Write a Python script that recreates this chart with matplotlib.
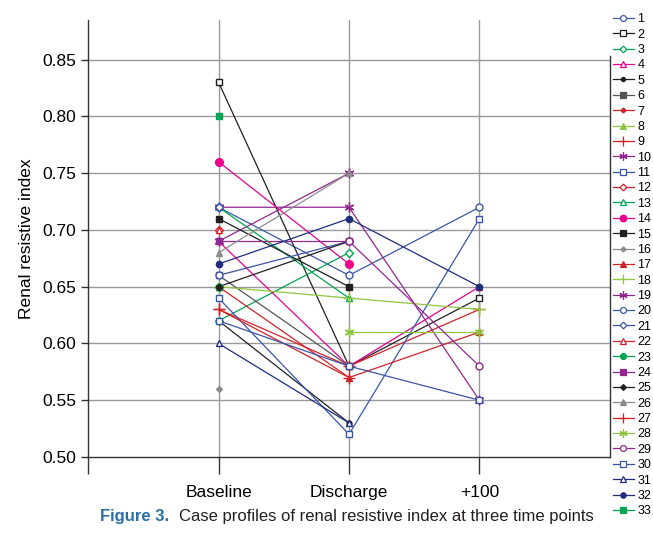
import numpy as np
import matplotlib
matplotlib.use("Agg")
import matplotlib.pyplot as plt

plt.rcParams['font.family'] = ['Liberation Sans', 'DejaVu Sans']

nan = np.nan
time_points = ["Baseline", "Discharge", "+100"]

# case values at Baseline / Discharge / +100
case_1 = [0.72, 0.66, 0.72]
case_2 = [0.83, 0.58, 0.64]
case_3 = [0.62, 0.68, nan]
case_4 = [0.69, 0.58, 0.65]
case_5 = [0.62, 0.53, nan]
case_6 = [0.66, 0.58, nan]
case_7 = [0.70, nan, nan]
case_8 = [0.65, nan, nan]
case_9 = [0.63, 0.58, 0.63]
case_10 = [0.69, 0.75, nan]
case_11 = [0.64, 0.52, 0.71]
case_12 = [0.70, nan, nan]
case_13 = [0.72, 0.64, nan]
case_14 = [0.76, 0.67, nan]
case_15 = [0.71, 0.65, nan]
case_16 = [0.56, nan, nan]
case_17 = [0.65, 0.57, 0.61]
case_18 = [0.65, 0.64, 0.63]
case_19 = [0.72, 0.72, 0.55]
case_20 = [0.66, 0.69, nan]
case_21 = [0.72, nan, nan]
case_22 = [0.70, nan, nan]
case_23 = [0.65, nan, nan]
case_24 = [0.69, 0.69, nan]
case_25 = [0.65, 0.69, nan]
case_26 = [0.68, 0.75, nan]
case_27 = [0.63, 0.57, nan]
case_28 = [nan, 0.61, 0.61]
case_29 = [nan, 0.69, 0.58]
case_30 = [0.62, 0.58, 0.55]
case_31 = [0.60, 0.53, nan]
case_32 = [0.67, 0.71, 0.65]
case_33 = [0.80, nan, nan]

cases = [case_1, case_2, case_3, case_4, case_5, case_6, case_7, case_8, case_9,
         case_10, case_11, case_12, case_13, case_14, case_15, case_16, case_17,
         case_18, case_19, case_20, case_21, case_22, case_23, case_24, case_25,
         case_26, case_27, case_28, case_29, case_30, case_31, case_32, case_33]

blue = '#3a56a8'
navy = '#1e2d7d'
green = '#00a651'
lgreen = '#8dc63f'
red = '#d2232a'
pink = '#ec008c'
purple = '#92278f'
gray = '#8c8c8c'
black = '#231f20'
ast = (6, 2, 0)   # asterisk marker

# (color, marker, filled, size)
styles = [
    (blue, 'o', False, 5), (black, 's', False, 5), (green, 'D', False, 4),
    (pink, '^', False, 5), (black, 'o', True, 3.5), ('#555555', 's', True, 4.5),
    (red, 'D', True, 3), (lgreen, '^', True, 5), (red, '+', True, 8),
    (purple, ast, True, 7), (blue, 's', False, 5), (red, 'D', False, 4),
    (green, '^', False, 5), (pink, 'o', True, 5.5), (black, 's', True, 5),
    (gray, 'D', True, 3), (red, '^', True, 5), (lgreen, '+', True, 8),
    (purple, ast, True, 7), (blue, 'o', False, 5), (blue, 'D', False, 4),
    (red, '^', False, 5), (green, 'o', True, 5), (purple, 's', True, 5),
    (black, 'D', True, 3.5), (gray, '^', True, 5), (red, '+', True, 8),
    (lgreen, ast, True, 7), (purple, 'o', False, 5), (blue, 's', False, 5),
    (navy, '^', False, 5), (navy, 'o', True, 4.5), (green, 's', True, 5),
]

fig = plt.figure(figsize=(6.53, 5.33), dpi=100)
ax = fig.add_axes([0.135, 0.1426, 0.799, 0.82])

x = np.arange(1, 4)
handles = []
for i, (vals, st) in enumerate(zip(cases, styles)):
    c, m, filled, ms = st
    v = np.array(vals, dtype=float)
    ax.plot(x, v, color=c, lw=0.9, zorder=2)
    ax.plot(x, v, marker=m, ms=ms, mfc=c if filled else 'white', mec=c,
            mew=1.0, linestyle='none', zorder=3)
    hl, = ax.plot([], [], color=c, lw=0.9, marker=m, ms=ms * 0.85,
                  mfc=c if filled else 'white', mec=c, mew=0.9)
    handles.append(hl)

ax.set_xlim(0, 4)
ax.set_ylim(0.50, 0.885)
yt = np.arange(0.50, 0.851, 0.05)
ax.set_yticks(yt)
ax.set_yticklabels([f"{t:.2f}" for t in yt], fontsize=12.5)
ax.set_xticks([0, 1, 2, 3])
ax.set_xticklabels([''] + time_points, fontsize=12.5)
ax.tick_params(axis='x', length=12, width=1, color='#333333', pad=8)
ax.tick_params(axis='y', length=5, width=1, color='#333333')

for yv in yt[1:]:
    ax.axhline(yv, color='#999999', lw=1, zorder=1)
for xv in x:
    ax.axvline(xv, color='#999999', lw=1, zorder=1)

ax.spines['top'].set_visible(False)
ax.spines['right'].set_bounds(0.50, 0.853)
for s in ['left', 'bottom', 'right']:
    ax.spines[s].set_color('#333333')
    ax.spines[s].set_linewidth(1)

ax.set_ylabel("Renal resistive index", fontsize=12.5, labelpad=6)

fig.legend(handles, [str(i + 1) for i in range(33)],
           loc='upper left', bbox_to_anchor=(0.938, 0.975),
           frameon=False, fontsize=9, handlelength=1.7,
           handletextpad=0.3, labelspacing=0.27, borderaxespad=0,
           borderpad=0)

fig.text(0.153, 0.022, "Figure 3.", color='#2a6ea8', fontsize=12,
         fontweight='bold')
fig.text(0.274, 0.022, "Case profiles of renal resistive index at three time points",
         color='#231f20', fontsize=12)

fig.savefig("out.png", dpi=100)
